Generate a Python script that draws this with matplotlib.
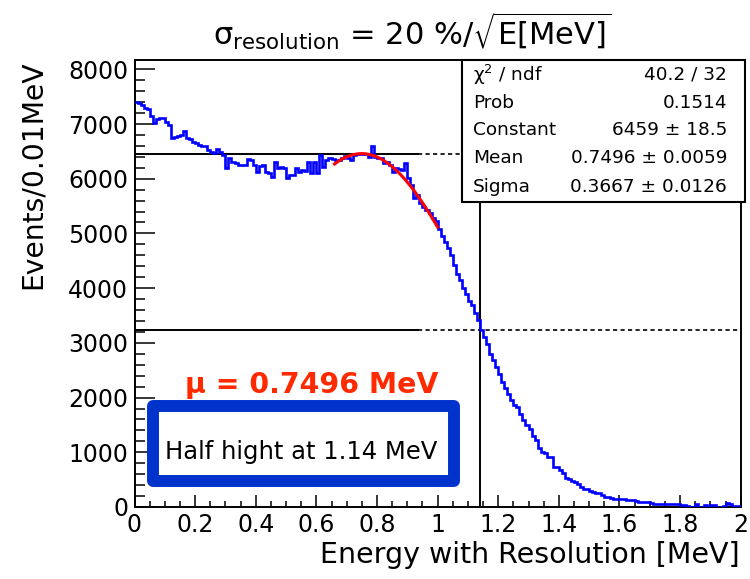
import numpy as np
import matplotlib
matplotlib.use('Agg')
import matplotlib.pyplot as plt
from matplotlib.patches import Rectangle
from matplotlib.ticker import MultipleLocator

# energy histogram, 200 bins of 0.01 MeV between 0 and 2 MeV
x_lo, x_hi = 0.0, 2.0
counts = [
    7410, 7385, 7350, 7300, 7270, 7150, 7020, 7100, 7110, 7105,
    7040, 6980, 6750, 6760, 6790, 6800, 6880, 6750, 6720, 6680,
    6650, 6620, 6600, 6590, 6530, 6480, 6470, 6550, 6490, 6440,
    6190, 6380, 6300, 6290, 6250, 6250, 6250, 6360, 6340, 6250,
    6130, 6230, 6260, 6130, 6100, 6040, 6310, 6190, 6220, 6200,
    6010, 6070, 6060, 6190, 6130, 6160, 6150, 6310, 6100, 6310,
    6100, 6430, 6210, 6340, 6370, 6360, 6340, 6350, 6370, 6410,
    6380, 6340, 6430, 6450, 6460, 6460, 6460, 6400, 6590, 6390,
    6370, 6370, 6280, 6310, 6250, 6130, 6190, 6170, 6160, 6280,
    6010, 5890, 5640, 5700, 5560, 5490, 5430, 5370, 5280, 5220,
    5080, 4960, 4850, 4740, 4600, 4420, 4250, 4150, 4000, 3900,
    3770, 3690, 3540, 3420, 3240, 3110, 2980, 2800, 2680, 2560,
    2430, 2290, 2180, 2060, 1960, 1870, 1830, 1700, 1590, 1500,
    1420, 1300, 1230, 1080, 1000, 980, 920, 910, 740, 725,
    680, 620, 525, 505, 480, 463, 420, 360, 323, 323,
    290, 280, 262, 250, 219, 177, 177, 170, 140, 140,
    140, 140, 130, 128, 128, 110, 98, 98, 98, 98,
    80, 55, 55, 55, 55, 55, 55, 55, 55, 50,
    37, 37, 10, 6, 6, 49, 6, 6, 37, 0,
    37, 37, 6, 6, 15, 67, 60, 18, 18, 18,
]

# gaussian fit near the top of the spectrum
fit_const, fit_mean, fit_sigma = 6459.0, 0.7496, 0.3667
fit_lo, fit_hi = 0.66, 1.0
half_x = 1.14
solid_end = 0.935

stat_names = ['χ$^{2}$ / ndf', 'Prob', 'Constant', 'Mean', 'Sigma']
stat_values = ['40.2 / 32', '0.1514', '6459 ± 18.5',
               '0.7496 ± 0.0059', '0.3667 ± 0.0126']

W, H = 750, 579


def fx(px):
    return px / W


def fy(py):
    return 1 - py / H


def main():
    plt.rcParams['font.family'] = 'DejaVu Sans'
    fig = plt.figure(figsize=(7.5, 5.79), dpi=100)
    ax = fig.add_axes([fx(134.5), fy(507), fx(740.7) - fx(134.5), fy(60) - fy(507)])

    edges = np.linspace(x_lo, x_hi, len(counts) + 1)
    ax.stairs(counts, edges, color='#0000ff', lw=1.9, baseline=None, zorder=3)

    xf = np.linspace(fit_lo, fit_hi, 200)
    ax.plot(xf, fit_const * np.exp(-0.5 * ((xf - fit_mean) / fit_sigma) ** 2),
            color='#ff0000', lw=2.2, zorder=4)

    # peak height and half height markers
    half = fit_const / 2
    for yv in (fit_const, half):
        ax.plot([x_lo, solid_end], [yv, yv], color='black', lw=1.4, zorder=2)
        ax.plot([solid_end, x_hi], [yv, yv], color='black', lw=1.2,
                ls=(0, (2.5, 2)), zorder=2)
    ax.axvline(half_x, color='black', lw=1.4, zorder=2)

    ax.set_xlim(x_lo, x_hi)
    ax.set_ylim(0, 8170)
    ax.xaxis.set_major_locator(MultipleLocator(0.2))
    ax.xaxis.set_minor_locator(MultipleLocator(0.05))
    ax.yaxis.set_major_locator(MultipleLocator(1000))
    ax.yaxis.set_minor_locator(MultipleLocator(200))
    ax.xaxis.set_major_formatter(lambda v, p: '%g' % round(v, 2))
    ax.tick_params(axis='both', which='both', direction='in', width=1.1,
                   labelsize=17, pad=4.5, top=False, right=False)
    ax.tick_params(axis='x', which='major', length=9)
    ax.tick_params(axis='x', which='minor', length=4.5)
    ax.tick_params(axis='y', which='major', length=14.4)
    ax.tick_params(axis='y', which='minor', length=7.2)
    for s in ax.spines.values():
        s.set_linewidth(1.4)

    fig.text(fx(740), fy(563), 'Energy with Resolution [MeV]', ha='right',
             va='baseline', fontsize=20.5)
    fig.text(fx(33), fy(60), 'Events/0.01MeV', rotation=90, ha='center',
             va='top', fontsize=20.3)
    fig.text(fx(412), fy(31), 'σ$_{\\mathrm{resolution}}$ = 20 %/$\\sqrt{\\mathrm{E[MeV]}}$',
             ha='center', va='center', fontsize=22)

    # fit statistics box
    fig.add_artist(Rectangle((fx(462), fy(202)), fx(745) - fx(462), fy(60) - fy(202),
                             transform=fig.transFigure, fc='white', ec='black',
                             lw=1.5, zorder=5))
    rows = [74.5, 103, 130, 158.5, 186.5]
    for name, val, ry in zip(stat_names, stat_values, rows):
        fig.text(fx(473), fy(ry), name, ha='left', va='center', fontsize=13.3, zorder=6)
        fig.text(fx(727), fy(ry), val, ha='right', va='center', fontsize=13.3, zorder=6)

    fig.text(fx(311.5), fy(385), 'μ = %.4f MeV' % fit_mean, color='#ff2a00',
             fontweight='bold', ha='center', va='center', fontsize=20.4, zorder=6)

    fig.add_artist(Rectangle((fx(153), fy(481)), fx(454) - fx(153), fy(405.5) - fy(481),
                             transform=fig.transFigure, fc='white', ec='#0033cc',
                             lw=8.6, joinstyle='round', zorder=5))
    fig.text(fx(301.5), fy(452.5), 'Half hight at %.2f MeV' % half_x, ha='center',
             va='center', fontsize=17.5, zorder=6)

    fig.savefig('out.png', dpi=100)


if __name__ == '__main__':
    main()
